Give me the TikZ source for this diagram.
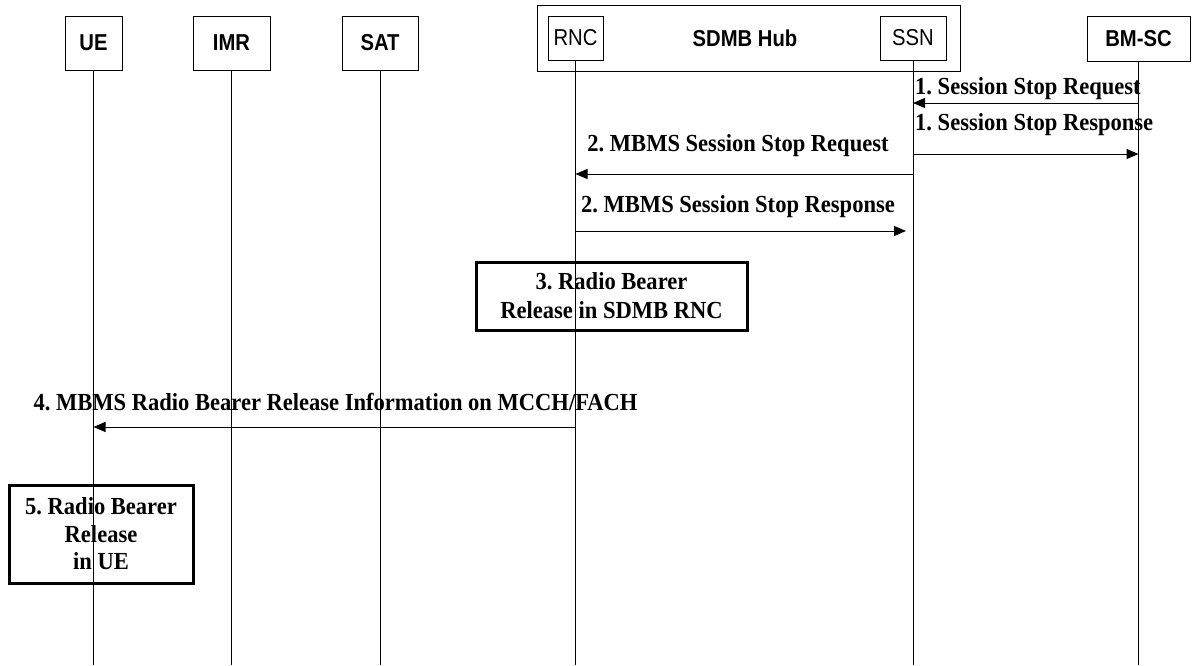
\documentclass[tikz,border=0pt]{standalone}
\usepackage{fontspec}
\setmainfont{Liberation Serif}
\setsansfont{Liberation Sans}
% slightly narrowed faces: taller letters at the usual advance widths
\newfontfamily\headfont{Liberation Sans}[FakeStretch=0.88]
\newfontfamily\msgfont{Liberation Serif}[FakeStretch=0.92]
\usetikzlibrary{arrows.meta}

\begin{document}
\begin{tikzpicture}[x=1pt,y=-1pt,
  entity/.style={draw, line width=1pt, minimum height=44pt, inner sep=0pt,
    font=\headfont\fontsize{23}{26}\selectfont},
  bigentity/.style={entity, font=\headfont\bfseries\fontsize{23}{26}\selectfont},
  lifeline/.style={line width=1pt},
  msg/.style={line width=1pt, -{Triangle[length=12pt,width=10pt]}},
  msglabel/.style={inner sep=0pt, font=\msgfont\bfseries\frenchspacing\fontsize{24.5}{28}\selectfont},
  action/.style={draw, line width=3pt, inner sep=0pt, align=center,
    font=\msgfont\bfseries\frenchspacing\fontsize{24.5}{29}\selectfont}]
\useasboundingbox (0,0) rectangle (1192,665);

% participants
\node[bigentity, minimum width=57pt, minimum height=54pt] (ue) at (93.5,43) {UE};
\node[bigentity, minimum width=77pt, minimum height=54pt] (imr) at (231.5,43) {IMR};
\node[bigentity, minimum width=76pt, minimum height=54pt] (sat) at (380,43) {SAT};
\node[draw, line width=1pt, minimum width=423pt, minimum height=66pt] (hub) at (748.5,38) {};
\node[inner sep=0pt, font=\headfont\bfseries\fontsize{23}{26}\selectfont] (hubname) at (745,38) {SDMB Hub};
\node[entity, minimum width=55pt] (rnc) at (575.5,38) {RNC};
\node[entity, minimum width=66pt] (ssn) at (913,38) {SSN};
\node[bigentity, minimum width=103pt, minimum height=45pt] (bmsc) at (1138.5,38.5) {BM-SC};

% lifelines
\foreach \p in {ue,imr,sat,rnc,ssn,bmsc}{
  \coordinate (\p-end) at (\p.south |- 0,665);
  \draw[lifeline] (\p.south) -- (\p-end);
}

% messages
\node[msglabel, anchor=west] (l1a) at (915,89) {1. Session Stop Request};
\draw[msg] (bmsc.south |- 0,103) -- (ssn.south |- 0,103);
\node[msglabel, anchor=west] (l1b) at (915,125) {1. Session Stop Response};
\draw[msg] (ssn.south |- 0,154) -- (bmsc.south |- 0,154);
\node[msglabel] (l2a) at (738,146) {2. MBMS Session Stop Request};
\draw[msg] (ssn.south |- 0,174) -- (rnc.south |- 0,174);
\node[msglabel] (l2b) at (738,207) {2. MBMS Session Stop Response};
\draw[msg, shorten >=7pt] (rnc.south |- 0,231) -- (ssn.south |- 0,231);

\node[action, minimum width=271pt, minimum height=68pt] (rb3) at (611.5,296)
  {3. Radio Bearer\\Release in SDMB RNC};

\node[msglabel] (l4) at (335.5,402) {4. MBMS Radio Bearer Release Information on MCCH/FACH};
\draw[msg] (rnc.south |- 0,427) -- (ue.south |- 0,427);

\node[action, minimum width=184pt, minimum height=98pt,
  font=\msgfont\bfseries\frenchspacing\fontsize{24.5}{27.5}\selectfont] (rb5) at (101,534)
  {5. Radio Bearer\\Release\\in UE};
\end{tikzpicture}
\end{document}
